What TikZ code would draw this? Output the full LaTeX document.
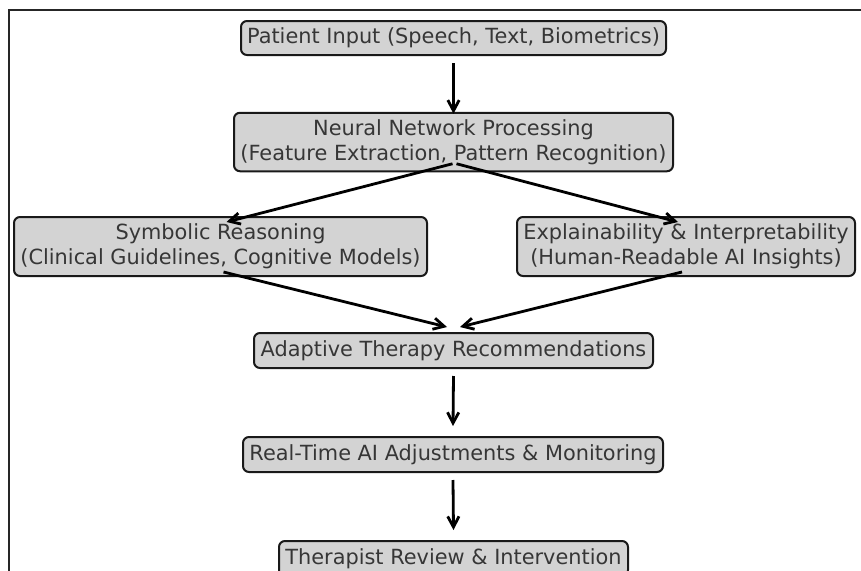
\documentclass[tikz,border=0pt]{standalone}
\usepackage{fontspec}
\setmainfont{DejaVu Sans}
\usetikzlibrary{arrows.meta,calc}
\definecolor{boxfill}{HTML}{D3D3D3}
\definecolor{txt}{HTML}{363636}
\begin{document}
\begin{tikzpicture}[x=0.75pt,y=-0.75pt,
  fbox/.style={draw=black!90, line width=1.5pt, fill=boxfill, rounded corners=4.5pt,
    inner sep=0pt, text=txt, align=center,
    font=\fontsize{15.65pt}{18.8pt}\selectfont},
  arr/.style={line width=2.1pt, -{Straight Barb[length=8pt,width=8.5pt,line width=2.1pt]}}
]
\useasboundingbox (0,0) rectangle (861,571);
\draw[line width=1.1pt, draw=black!85] (9,571) -- (9,10) -- (861,10);

\node[fbox, minimum width=425*0.75pt, minimum height=34*0.75pt] (pi) at (453.5,38) {Patient Input (Speech, Text, Biometrics)};
\node[fbox, minimum width=439*0.75pt, minimum height=58.5*0.75pt] (nn) at (453.5,142) {Neural Network Processing\\(Feature Extraction, Pattern Recognition)};
\node[fbox, minimum width=413*0.75pt, minimum height=59*0.75pt] (sym) at (220.5,246.5) {Symbolic Reasoning\\(Clinical Guidelines, Cognitive Models)};
\node[fbox, minimum width=338*0.75pt, minimum height=59*0.75pt] (ex) at (686,246.5) {Explainability \& Interpretability\\(Human-Readable AI Insights)};
\node[fbox, minimum width=399*0.75pt, minimum height=35*0.75pt] (ad) at (453.5,350.5) {Adaptive Therapy Recommendations};
\node[fbox, minimum width=420*0.75pt, minimum height=35*0.75pt] (rt) at (453,454.5) {Real-Time AI Adjustments \& Monitoring};
\node[fbox, minimum width=349*0.75pt, minimum height=35*0.75pt] (th) at (453.5,558.5) {Therapist Review \& Intervention};

\draw[arr] ($(pi.south)+(0,7)$) -- ($(nn.north)+(0,2)$);
\draw[arr] ($(nn.south)+(-1,-8.5)$) -- ($(sym.north)+(6,6)$);
\draw[arr] ($(nn.south)+(3,-8.5)$) -- ($(ex.north)+(-8,6)$);
\draw[arr] ($(sym.south)+(3,-5)$) -- ($(ad.north)+(-6.5,-5)$);
\draw[arr] ($(ex.south)+(-4,-5)$) -- ($(ad.north)+(6.5,-5)$);
\draw[arr] ($(ad.south)+(0,7)$) -- ($(rt.north)+(0,-10)$);
\draw[arr] ($(rt.south)+(0,7)$) -- ($(th.north)+(0,-10)$);
\end{tikzpicture}
\end{document}
